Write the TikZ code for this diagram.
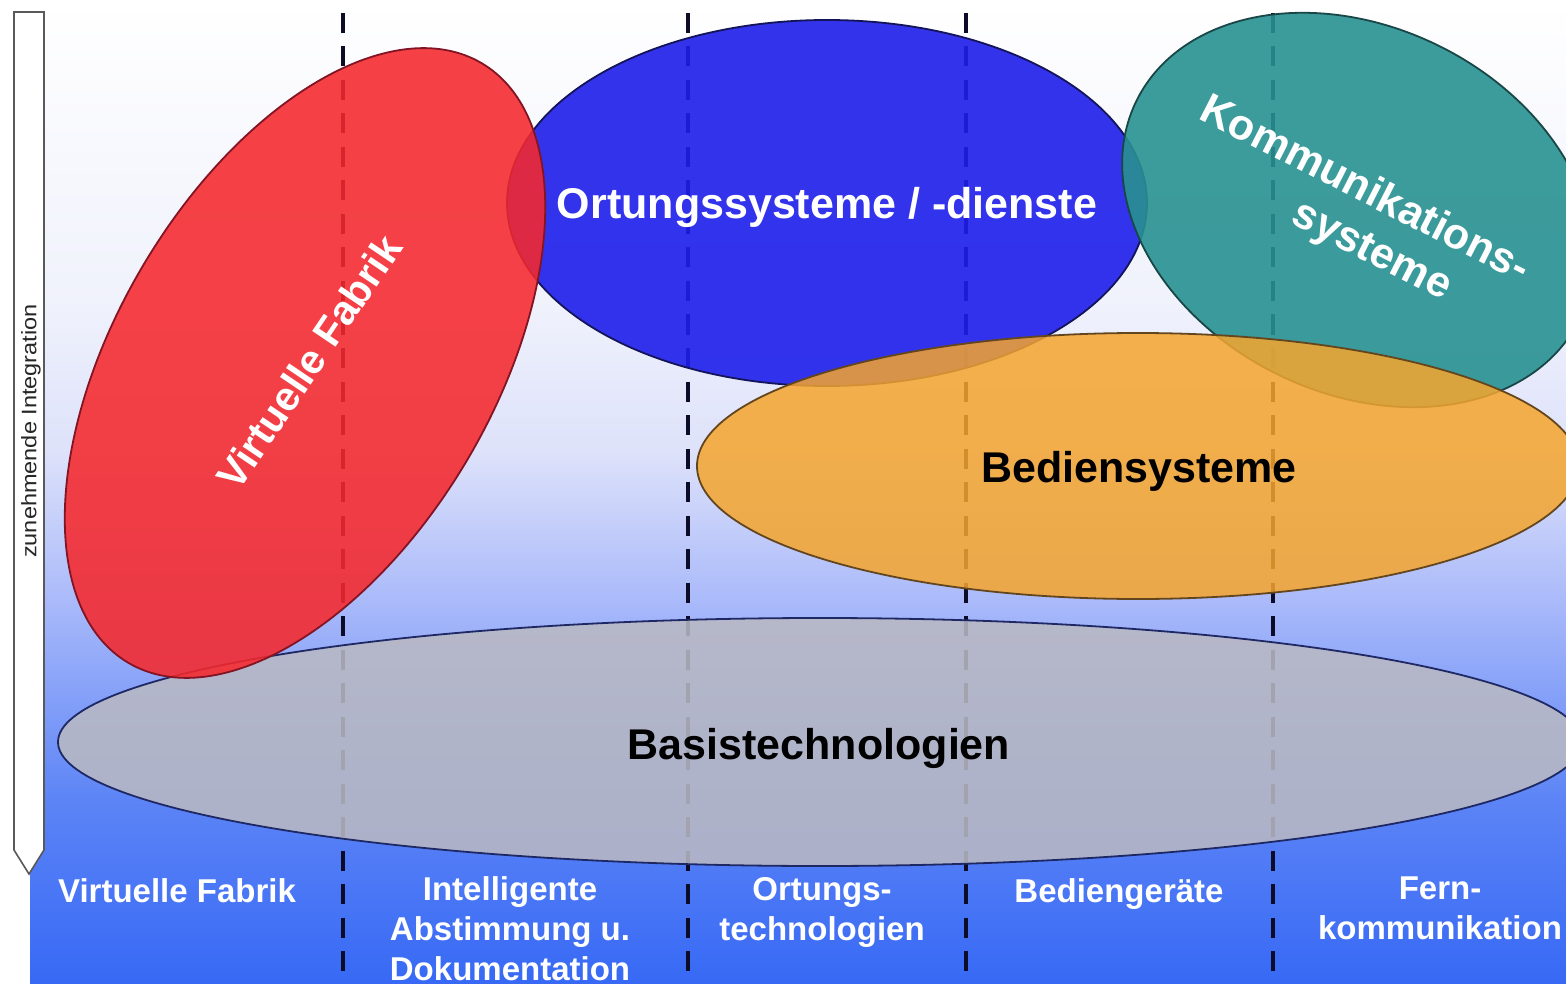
\documentclass[tikz,border=0pt]{standalone}
\usepackage{fontspec}
\usepackage{graphicx}
\setmainfont{Liberation Sans}
\definecolor{bgA}{RGB}{255,255,255}
\definecolor{bgB}{RGB}{240,242,252}
\definecolor{bgC}{RGB}{222,226,250}
\definecolor{bgD}{RGB}{170,186,250}
\definecolor{bgE}{RGB}{92,132,246}
\definecolor{bgF}{RGB}{55,105,245}
\definecolor{dashcol}{RGB}{12,12,40}
\definecolor{redfill}{RGB}{245,40,45}
\definecolor{redline}{RGB}{130,20,35}
\definecolor{bluefill}{RGB}{30,30,235}
\definecolor{blueline}{RGB}{20,20,90}
\definecolor{tealfill}{RGB}{40,145,145}
\definecolor{tealline}{RGB}{25,70,70}
\definecolor{orangefill}{RGB}{245,165,45}
\definecolor{orangeline}{RGB}{100,70,30}
\definecolor{greyfill}{RGB}{185,185,195}
\definecolor{greyline}{RGB}{30,40,100}
\begin{document}
\begin{tikzpicture}[x=1pt,y=-1pt,
  ell/.style={line width=1.8pt},
  dashline/.style={line width=4pt, draw=dashcol, dash pattern=on 20pt off 13.5pt},
  biglabel/.style={font=\bfseries\fontsize{43}{50}\selectfont, inner sep=0pt},
  botlabel/.style={font=\bfseries\fontsize{33}{40}\selectfont, text=white, align=center, inner sep=0pt, anchor=base}]
\useasboundingbox (0,0) rectangle (1566,984);
\clip (0,0) rectangle (1566,984);
% background
\fill[white] (0,0) rectangle (1566,984);
\fill[top color=bgA, bottom color=bgB] (30,0) rectangle (1566,300.5);
\fill[top color=bgB, bottom color=bgC] (30,300) rectangle (1566,450.5);
\fill[top color=bgC, bottom color=bgD] (30,450) rectangle (1566,600.5);
\fill[top color=bgD, bottom color=bgE] (30,600) rectangle (1566,800.5);
\fill[top color=bgE, bottom color=bgF] (30,800) rectangle (1566,984);
% dashed column separators
\draw[dashline] (343,13) -- (343,984);
\draw[dashline] (688,13) -- (688,984);
\draw[dashline] (966,13) -- (966,984);
\draw[dashline] (1273,13) -- (1273,984);
% arrow
\filldraw[fill=white, draw=gray!70!black, line width=1.6pt] (14,12) -- (44,12) -- (44,850) -- (29,874) -- (14,850) -- cycle;
\node[rotate=90, inner sep=0pt, font=\fontsize{21}{25}\selectfont, text=black!85] (integ) at (31,431) {\scalebox{1.12}[1]{zunehmende Integration}};
% ellipses
\filldraw[fill=greyfill, draw=greyline, fill opacity=0.88, ell] (820,742) ellipse [x radius=762pt, y radius=124pt];
\filldraw[fill=bluefill, draw=blueline, fill opacity=0.9, ell] (827,203) ellipse [x radius=320pt, y radius=183pt];
\filldraw[fill=redfill, draw=redline, fill opacity=0.88, ell, rotate around={59.5:(305,363)}] (305,363) ellipse [x radius=348pt, y radius=189pt];
\filldraw[fill=tealfill, draw=tealline, fill opacity=0.9, ell, rotate around={-26.3:(1358,210)}] (1358,210) ellipse [x radius=247pt, y radius=183pt];
\filldraw[fill=orangefill, draw=orangeline, fill opacity=0.85, ell] (1138,466) ellipse [x radius=441pt, y radius=133pt];
% ellipse labels
\node[biglabel, text=white, anchor=base] (ort) at (827,219) {Ortungssysteme / -dienste};
\node[biglabel, text=black, anchor=base] (bed) at (1139,482) {Bediensysteme};
\node[biglabel, text=black, anchor=base] (bas) at (819,759) {Basistechnologien};
\node[biglabel, text=white, rotate=56, font=\bfseries\fontsize{41}{48}\selectfont] (vf) at (309,362) {Virtuelle Fabrik};
\node[biglabel, text=white, rotate=-27] (kom1) at (1366,187) {Kommunikations-};
\node[biglabel, text=white, rotate=-27] (kom2) at (1371,253) {systeme};
% bottom labels
\node[botlabel] (l1) at (177,902) {Virtuelle Fabrik};
\node[botlabel, anchor=north] (l2) at (510,876) {Intelligente\\Abstimmung u.\\Dokumentation};
\node[botlabel, anchor=north] (l3) at (822,877) {Ortungs-\\technologien};
\node[botlabel] (l4) at (1119,902) {Bediengeräte};
\node[botlabel, anchor=north] (l5) at (1440,877) {Fern-\\kommunikation};
\end{tikzpicture}
\end{document}
